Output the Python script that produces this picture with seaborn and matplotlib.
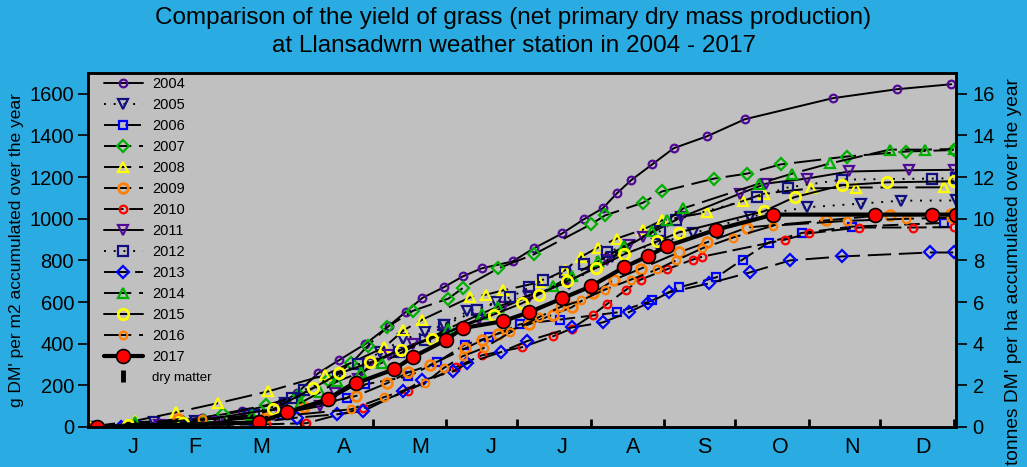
import matplotlib
matplotlib.use("Agg")
import matplotlib.pyplot as plt
from matplotlib.lines import Line2D
import seaborn as sns
import pandas as pd

# ---- data: day of year and accumulated g DM per m2 ----
years = [2004, 2005, 2006, 2007, 2008, 2009, 2010, 2011, 2012, 2013, 2014, 2015, 2016, 2017]

days_2004 = [0, 15, 30, 48, 65, 82, 88, 97, 106, 117, 127, 134, 141, 150, 158, 166, 179, 188, 200, 209, 217, 223, 229, 238, 247, 261, 277, 314, 341, 364]
vals_2004 = [0, 8, 20, 45, 75, 118, 161, 258, 322, 399, 487, 553, 620, 671, 723, 762, 795, 858, 930, 997, 1050, 1122, 1185, 1262, 1339, 1396, 1478, 1579, 1622, 1646]

days_2005 = [0, 28, 45, 67, 83, 105, 123, 133, 142, 150, 160, 172, 186, 203, 221, 240, 255, 279, 303, 326, 343, 366]
vals_2005 = [0, 23, 30, 61, 113, 240, 358, 421, 454, 492, 555, 598, 622, 689, 818, 880, 930, 1010, 1055, 1073, 1087, 1088]

days_2006 = [0, 20, 45, 82, 109, 117, 135, 147, 159, 169, 182, 199, 223, 238, 249, 265, 276, 287, 301, 322, 361]
vals_2006 = [0, 5, 15, 60, 138, 205, 243, 310, 396, 430, 493, 516, 550, 608, 670, 719, 804, 886, 932, 962, 980]

days_2007 = [0, 20, 40, 57, 75, 89, 101, 111, 118, 126, 137, 152, 158, 173, 188, 212, 218, 234, 242, 264, 278, 292, 320, 345, 365]
vals_2007 = [0, 8, 25, 64, 104, 152, 224, 306, 390, 478, 558, 617, 667, 762, 829, 973, 1016, 1077, 1131, 1193, 1217, 1261, 1299, 1323, 1330]

days_2008 = [0, 20, 37, 55, 76, 100, 125, 133, 141, 161, 168, 175, 190, 201, 208, 215, 223, 234, 242, 261, 276, 285, 305, 324, 361]
vals_2008 = [0, 30, 70, 115, 171, 250, 383, 464, 516, 622, 636, 656, 694, 752, 818, 862, 905, 948, 992, 1031, 1085, 1121, 1146, 1150, 1151]

days_2009 = [0, 38, 75, 91, 113, 126, 135, 144, 159, 166, 173, 186, 196, 204, 213, 222, 233, 249, 261, 278, 311, 338, 364]
vals_2009 = [0, 37, 51, 94, 149, 210, 262, 296, 377, 416, 449, 493, 540, 575, 642, 708, 760, 838, 887, 958, 992, 1020, 1023]

days_2010 = [0, 54, 75, 92, 116, 135, 155, 166, 183, 196, 204, 213, 219, 227, 233, 244, 255, 259, 294, 304, 325, 348, 365]
vals_2010 = [0, 10, 13, 18, 90, 175, 287, 344, 383, 435, 473, 540, 592, 660, 708, 757, 804, 818, 900, 930, 958, 958, 960]

days_2011 = [0, 30, 55, 78, 98, 104, 114, 119, 127, 137, 150, 165, 175, 186, 202, 219, 228, 234, 250, 275, 286, 303, 321, 346, 365]
vals_2011 = [0, 10, 25, 60, 100, 161, 230, 301, 344, 397, 450, 520, 575, 627, 694, 800, 872, 911, 1007, 1121, 1169, 1193, 1227, 1233, 1235]

days_2012 = [0, 20, 45, 70, 86, 91, 114, 131, 142, 150, 164, 178, 186, 192, 201, 209, 219, 241, 248, 282, 295, 318, 356, 366]
vals_2012 = [0, 5, 15, 60, 140, 177, 301, 359, 416, 488, 560, 623, 670, 708, 742, 785, 838, 939, 996, 1104, 1150, 1188, 1193, 1195]

days_2013 = [0, 14, 40, 70, 88, 105, 116, 133, 141, 154, 160, 174, 185, 204, 217, 228, 236, 245, 262, 279, 296, 318, 355, 365]
vals_2013 = [0, 0, 5, 20, 45, 61, 76, 171, 224, 267, 306, 359, 412, 478, 502, 551, 594, 646, 690, 742, 800, 819, 838, 838]

days_2014 = [0, 20, 49, 69, 90, 98, 105, 115, 124, 152, 166, 173, 196, 204, 215, 226, 238, 244, 251, 283, 297, 313, 338, 353, 365]
vals_2014 = [0, 23, 37, 56, 118, 168, 219, 262, 309, 473, 545, 578, 675, 727, 795, 867, 939, 992, 1050, 1169, 1217, 1266, 1332, 1332, 1335]

days_2015 = [0, 17, 40, 78, 95, 106, 119, 132, 145, 171, 183, 190, 202, 214, 226, 240, 249, 285, 298, 318, 337, 365]
vals_2015 = [0, 8, 20, 85, 187, 257, 310, 372, 425, 540, 594, 636, 700, 762, 829, 891, 934, 1036, 1104, 1161, 1175, 1180]

days_2016 = [0, 48, 75, 111, 125, 142, 150, 158, 167, 178, 190, 199, 208, 218, 229, 240, 248, 259, 272, 289, 320, 345, 364]
vals_2016 = [0, 37, 45, 85, 144, 210, 283, 340, 380, 454, 527, 575, 608, 660, 708, 757, 800, 858, 910, 967, 990, 1000, 1005]

days_2017 = [4, 72, 84, 101, 113, 129, 137, 151, 158, 175, 186, 200, 212, 226, 236, 244, 265, 289, 332, 356, 366]
vals_2017 = [0, 22, 70, 133, 210, 277, 336, 418, 475, 508, 551, 618, 675, 767, 820, 868, 948, 1020, 1020, 1020, 1020]

month_starts = [31, 59, 90, 120, 151, 181, 212, 243, 273, 304, 334, 365]
month_label_pos = [19, 45, 73, 108, 140, 170, 200, 230, 260, 292, 322, 352]
month_labels = ["J", "F", "M", "A", "M", "J", "J", "A", "S", "O", "N", "D"]

all_days = [days_2004, days_2005, days_2006, days_2007, days_2008, days_2009, days_2010,
            days_2011, days_2012, days_2013, days_2014, days_2015, days_2016, days_2017]
all_vals = [vals_2004, vals_2005, vals_2006, vals_2007, vals_2008, vals_2009, vals_2010,
            vals_2011, vals_2012, vals_2013, vals_2014, vals_2015, vals_2016, vals_2017]

# ---- styles per year: marker, edge colour, marker size, edge width, line style ----
purple, navy, blue, green = "#500A96", "#101080", "#0000FF", "#00B000"
yellow, orange, red = "#FFFF00", "#FF8000", "#FF0000"
styles = {
    2004: dict(marker="o", mec=purple, ms=5.5, mew=1.6, ls="-"),
    2005: dict(marker="v", mec=navy, ms=7, mew=1.6, ls=(0, (1, 4))),
    2006: dict(marker="s", mec=blue, ms=6, mew=1.6, ls=(0, (8, 3))),
    2007: dict(marker="D", mec=green, ms=6, mew=1.6, ls=(0, (14, 4))),
    2008: dict(marker="^", mec=yellow, ms=6.5, mew=1.6, ls=(0, (14, 4))),
    2009: dict(marker="o", mec=orange, ms=7, mew=2, ls=(0, (14, 4))),
    2010: dict(marker="o", mec=red, ms=5.5, mew=1.6, ls=(0, (10, 3))),
    2011: dict(marker="v", mec=purple, ms=7, mew=1.6, ls="-"),
    2012: dict(marker="s", mec=navy, ms=6.5, mew=1.6, ls=(0, (1, 4))),
    2013: dict(marker="D", mec=blue, ms=6, mew=1.6, ls=(0, (12, 4))),
    2014: dict(marker="^", mec=green, ms=6.5, mew=1.6, ls=(0, (14, 4))),
    2015: dict(marker="o", mec=yellow, ms=7.5, mew=2, ls="-"),
    2016: dict(marker="o", mec=orange, ms=5.5, mew=1.6, ls=(0, (14, 4))),
    2017: dict(marker="o", mec="black", ms=10, mew=1.2, ls="-"),
}

sns.set_style("ticks")
plt.rcParams["font.family"] = ["Liberation Sans", "DejaVu Sans"]
for key in ["text.color", "axes.labelcolor", "xtick.color", "ytick.color",
            "xtick.labelcolor", "ytick.labelcolor"]:
    plt.rcParams[key] = "black"

bg_blue = "#2AACE2"
fig = plt.figure(figsize=(10.27, 4.67), dpi=100, facecolor=bg_blue)
ax = fig.add_axes([88 / 1027, 40 / 467, 868 / 1027, 354 / 467])
ax.set_facecolor("#C0C0C0")

handles = []
for yr, d, v in zip(years, all_days, all_vals):
    st = styles[yr]
    df = pd.DataFrame({"day": d, "g": v})
    lw = 3 if yr == 2017 else 1.4
    fc = red if yr == 2017 else "none"
    sns.lineplot(data=df, x="day", y="g", ax=ax, color="black", linewidth=lw,
                 linestyle=st["ls"], marker=st["marker"], markersize=st["ms"],
                 markeredgecolor=st["mec"], markerfacecolor=fc,
                 markeredgewidth=st["mew"], estimator=None, legend=False)
    handles.append(Line2D([], [], color="black", lw=lw, ls=st["ls"], marker=st["marker"],
                          ms=st["ms"], mec=st["mec"], mfc=fc, mew=st["mew"], label=str(yr)))

handles.append(Line2D([], [], color="none", marker="|", ms=9, mew=3.5, mec="black", label="dry matter"))

ax.set_xlim(0, 366)
ax.set_ylim(0, 1700)
ax.set_xlabel("")
ax.set_ylabel("g DM' per m2 accumulated over the year", fontsize=12.5, labelpad=4)

ax.set_xticks(month_starts)
ax.set_xticklabels([])
ax.tick_params(axis="x", which="major", direction="in", length=6, width=2, color="black")
ax.set_xticks(month_label_pos, minor=True)
ax.set_xticklabels(month_labels, minor=True, fontsize=15.5)
ax.tick_params(axis="x", which="minor", length=0, pad=7)

ax.set_yticks(range(0, 1601, 200))
ax.tick_params(axis="y", direction="out", length=7, width=1.2, labelsize=14.5, pad=3)
for sp in ax.spines.values():
    sp.set_visible(True)
    sp.set_color("black")
    sp.set_linewidth(1.8)

ax2 = ax.twinx()
ax2.set_ylim(0, 17)
ax2.set_yticks(range(0, 17, 2))
ax2.tick_params(axis="y", direction="out", length=8, width=1.2, labelsize=14.5, pad=4)
ax2.set_ylabel("tonnes DM' per ha accumulated over the year", fontsize=13.8)
ax2.yaxis.set_label_coords(1.056, 0.44)
for sp in ax2.spines.values():
    sp.set_color("black")
    sp.set_linewidth(1.8)

leg = ax.legend(handles=handles, loc="upper left", bbox_to_anchor=(0.008, 1.014), frameon=False,
                fontsize=10.5, labelspacing=0.48, handlelength=2.7, handletextpad=0.6,
                borderaxespad=0.2)
leg.get_texts()[-1].set_fontsize(9.5)

fig.text(0.5, 0.962, "Comparison of the yield of grass (net primary dry mass production)",
         ha="center", va="center", fontsize=17.5)
fig.text(0.5, 0.902, "at Llansadwrn weather station in 2004 - 2017",
         ha="center", va="center", fontsize=17.5)

fig.savefig("out.png", dpi=100, facecolor=bg_blue)
